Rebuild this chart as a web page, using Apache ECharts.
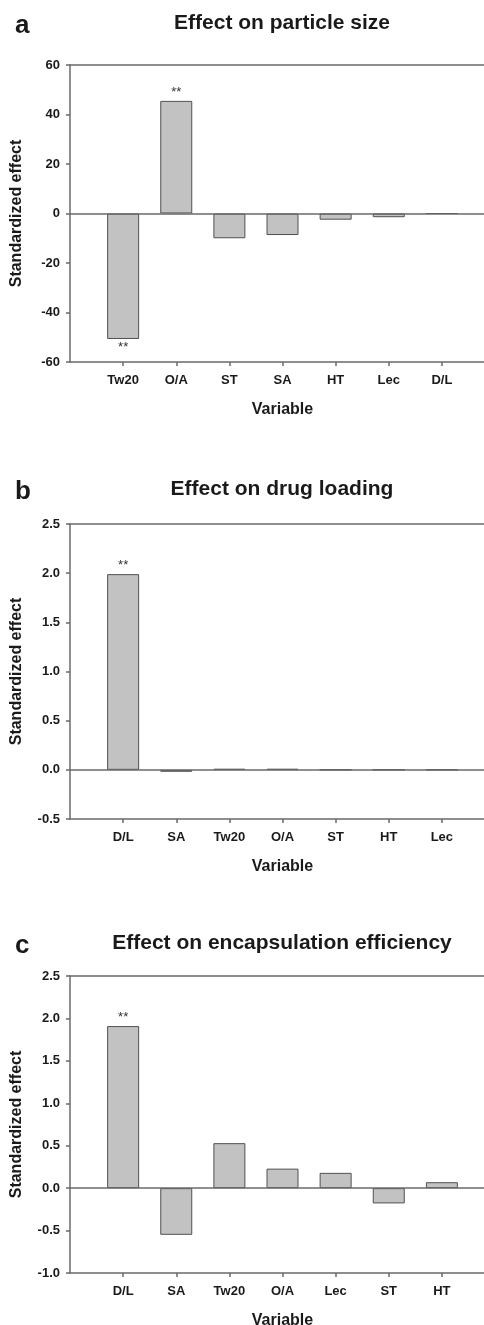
<!DOCTYPE html>
<html>
<head>
<meta charset="utf-8">
<script src="https://cdn.jsdelivr.net/npm/echarts@6/dist/echarts.min.js"></script>
<style>
html,body{margin:0;padding:0;background:#fff;}
#chart{width:484px;height:1325px;}
</style>
</head>
<body>
<div id="chart"></div>
<script>
// Panel a: Effect on particle size
const catsA = ['Tw20', 'O/A', 'ST', 'SA', 'HT', 'Lec', 'D/L'];
const valsA = [-50.7, 45.5, -10.0, -8.7, -2.5, -1.5, 0];
const sigA = ['**', '**', '', '', '', '', ''];
const ticksA = {min: -60, max: 60, interval: 20};

// Panel b: Effect on drug loading
const catsB = ['D/L', 'SA', 'Tw20', 'O/A', 'ST', 'HT', 'Lec'];
const valsB = [1.99, -0.02, 0.01, 0.01, 0, 0, 0];
const sigB = ['**', '', '', '', '', '', ''];
const ticksB = {min: -0.5, max: 2.5, interval: 0.5};

// Panel c: Effect on encapsulation efficiency
const catsC = ['D/L', 'SA', 'Tw20', 'O/A', 'Lec', 'ST', 'HT'];
const valsC = [1.91, -0.55, 0.53, 0.23, 0.18, -0.18, 0.07];
const sigC = ['**', '', '', '', '', '', ''];
const ticksC = {min: -1.0, max: 2.5, interval: 0.5};

const titles = ['Effect on particle size', 'Effect on drug loading', 'Effect on encapsulation efficiency'];
const letters = ['a', 'b', 'c'];

const panels = [
  {cats: catsA, vals: valsA, sig: sigA, ticks: ticksA, dec: 0, top: 65, height: 297, titleTop: 8, letterTop: 8},
  {cats: catsB, vals: valsB, sig: sigB, ticks: ticksB, dec: 1, top: 524, height: 295, titleTop: 474, letterTop: 474},
  {cats: catsC, vals: valsC, sig: sigC, ticks: ticksC, dec: 1, top: 976, height: 297, titleTop: 928, letterTop: 928}
];

const FONT = '"Liberation Sans", Arial, sans-serif';
const AXIS_COLOR = '#6a6a6a';
const positions = [1, 2, 3, 4, 5, 6, 7];

const option = {
  backgroundColor: '#ffffff',
  animation: false,
  title: [],
  grid: [],
  xAxis: [],
  yAxis: [],
  series: []
};

panels.forEach((p, i) => {
  option.title.push({
    text: titles[i], left: 277, top: p.titleTop, textAlign: 'center',
    textStyle: {fontFamily: FONT, fontWeight: 'bold', fontSize: 21, color: '#1a1a1a'}
  });
  option.title.push({
    text: letters[i], left: 10, top: p.letterTop,
    textStyle: {fontFamily: FONT, fontWeight: 'bold', fontSize: 26, color: '#1a1a1a'}
  });
  option.grid.push({left: 70, top: p.top, width: 425, height: p.height, outerBoundsMode: 'none', containLabel: false});
  option.xAxis.push({
    gridIndex: i, type: 'value', min: 0, max: 8, interval: 1, position: 'bottom',
    name: 'Variable', nameLocation: 'middle', nameGap: 40,
    nameTextStyle: {fontFamily: FONT, fontWeight: 'bold', fontSize: 16, color: '#1a1a1a'},
    axisLine: {show: true, onZero: false, lineStyle: {color: AXIS_COLOR, width: 1.5}},
    axisTick: {show: true, length: 4, inside: false, customValues: positions, lineStyle: {color: AXIS_COLOR, width: 1.5}},
    axisLabel: {show: true, customValues: positions, margin: 12, formatter: v => p.cats[v - 1] || '',
      fontFamily: FONT, fontWeight: 'bold', fontSize: 13, color: '#1a1a1a'},
    splitLine: {show: false}
  });
  option.xAxis.push({
    gridIndex: i, type: 'value', min: 0, max: 8, position: 'top',
    axisLine: {show: true, onZero: false, lineStyle: {color: AXIS_COLOR, width: 1.5}},
    axisTick: {show: false}, axisLabel: {show: false}, splitLine: {show: false}
  });
  option.yAxis.push({
    gridIndex: i, type: 'value', min: p.ticks.min, max: p.ticks.max, interval: p.ticks.interval,
    name: 'Standardized effect', nameLocation: 'middle', nameGap: 45,
    nameTextStyle: {fontFamily: FONT, fontWeight: 'bold', fontSize: 16, color: '#1a1a1a'},
    axisLine: {show: true, onZero: false, lineStyle: {color: AXIS_COLOR, width: 1.5}},
    axisTick: {show: true, length: 4, inside: false, lineStyle: {color: AXIS_COLOR, width: 1.5}},
    axisLabel: {show: true, margin: 10, formatter: v => v.toFixed(p.dec),
      fontFamily: FONT, fontWeight: 'bold', fontSize: 13, color: '#1a1a1a'},
    splitLine: {show: false}
  });
  option.series.push({
    type: 'bar', xAxisIndex: i * 2, yAxisIndex: i, barWidth: 32,
    itemStyle: {color: '#c2c2c2', borderColor: '#505050', borderWidth: 1},
    data: p.vals.map((v, k) => ({
      value: [positions[k], v],
      label: {show: p.sig[k] !== '', position: v < 0 ? 'bottom' : 'top', distance: 2}
    })),
    label: {formatter: params => p.sig[params.dataIndex], fontFamily: FONT, fontSize: 13, color: '#333'},
    markLine: {
      silent: true, symbol: 'none', label: {show: false},
      lineStyle: {color: AXIS_COLOR, width: 1.5, type: 'solid'},
      data: [{yAxis: 0}]
    }
  });
});

const chart = echarts.init(document.getElementById('chart'), null, {renderer: 'canvas'});
chart.setOption(option);
</script>
</body>
</html>
